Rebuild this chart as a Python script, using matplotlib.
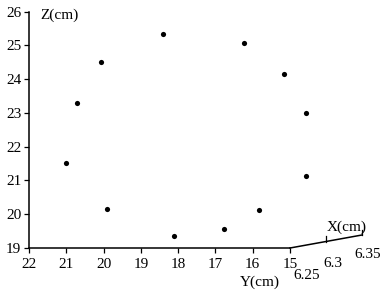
import matplotlib
matplotlib.use("Agg")
import matplotlib.pyplot as plt

# Projected point positions (Y and Z in cm)
point_y = [21.01, 20.71, 20.07, 18.41, 16.24, 15.16, 14.57, 14.57, 15.83, 16.77, 18.11, 19.91]
point_z = [21.51, 23.31, 24.50, 25.33, 25.06, 24.14, 22.99, 21.12, 20.12, 19.55, 19.35, 20.15]

y_ticks = [22, 21, 20, 19, 18, 17, 16, 15]
z_ticks = [19, 20, 21, 22, 23, 24, 25, 26]
x_ticks = [6.25, 6.3, 6.35]
x_tick_labels = ["6.25", "6.3", "6.35"]

plt.rcParams['font.family'] = ['Liberation Serif', 'DejaVu Serif']
FS = 11

W, H = 383, 292
fig = plt.figure(figsize=(W / 100, H / 100), dpi=100)
left_px, right_px = 29, 290
bot_px, top_px = 248, 11.7
ax = fig.add_axes([left_px / W, 1 - bot_px / H, (right_px - left_px) / W, (bot_px - top_px) / H])

ax.set_xlim(22, 15)
ax.set_ylim(19, 26)
ax.set_xticks(y_ticks)
ax.set_yticks(z_ticks)
ax.set_xticklabels([str(t) for t in y_ticks], fontsize=FS)
ax.set_yticklabels([str(t) for t in z_ticks], fontsize=FS)
ax.tick_params(axis='both', direction='out', length=3.5, width=0.9, color='black')
ax.tick_params(axis='x', pad=4)
ax.tick_params(axis='y', pad=2)
for s in ['top', 'right']:
    ax.spines[s].set_visible(False)
for s in ['left', 'bottom']:
    ax.spines[s].set_linewidth(1.1)

ax.scatter(point_y, point_z, s=14, color='black', clip_on=False, zorder=3, linewidths=0)

# Oblique X axis (projected): per unit X -> change in (Y, Z)
dY, dZ = -19.3, 3.85
def proj(x):
    return 15 + dY * (x - x_ticks[0]), 19 + dZ * (x - x_ticks[0])

label_offsets = [(12, -20), (5, -16), (4, -14)]
p0 = proj(x_ticks[0]); p1 = proj(x_ticks[-1])
ax.plot([p0[0], p1[0]], [p0[1], p1[1]], color='black', lw=1.1, clip_on=False)
for xv, lab, off in zip(x_ticks, x_tick_labels, label_offsets):
    py, pz = proj(xv)
    if xv != x_ticks[0]:
        ax.plot([py, py], [pz, pz + 0.15], color='black', lw=0.9, clip_on=False)
    ax.annotate(lab, (py, pz), xytext=off, textcoords='offset points',
                ha='center', va='center', fontsize=FS, annotation_clip=False)

ax.text(0.045, 0.985, "Z(cm)", transform=ax.transAxes, fontsize=FS, ha='left', va='center')
fig.text(260 / W, 1 - 282 / H, "Y(cm)", fontsize=FS, ha='center', va='center')
fig.text(347 / W, 1 - 227 / H, "X(cm)", fontsize=FS, ha='center', va='center')

fig.savefig("out.png", dpi=100)
